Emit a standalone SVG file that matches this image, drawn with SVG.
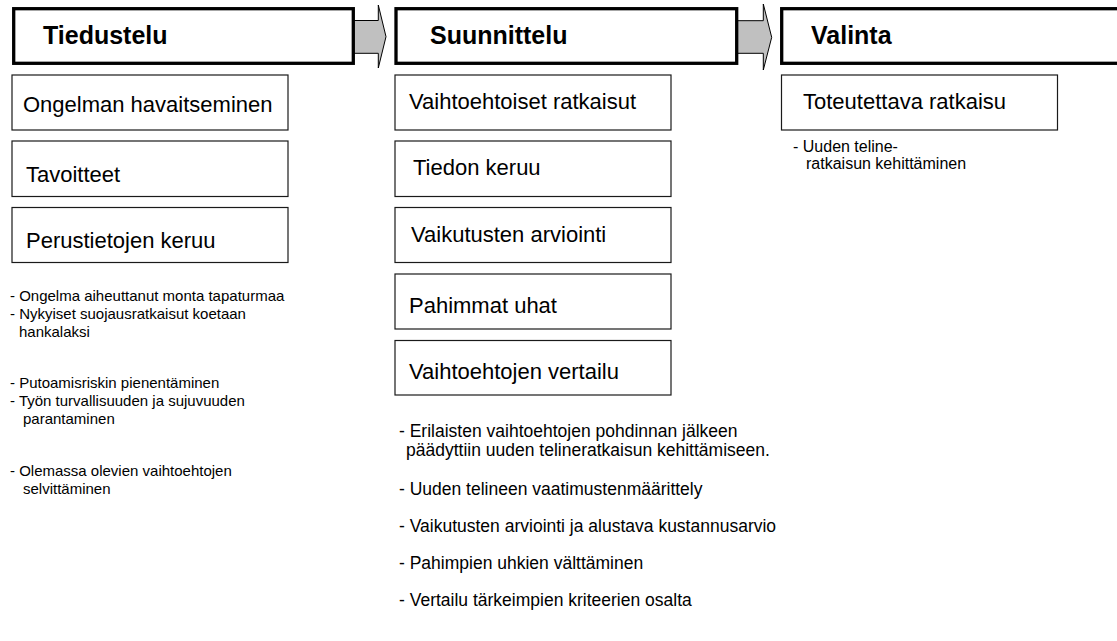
<svg xmlns="http://www.w3.org/2000/svg" width="1117" height="641" viewBox="0 0 1117 641">
  <style>
    .phase { fill: #ffffff; stroke: #000000; stroke-width: 3.3; }
    .step { fill: #ffffff; stroke: #1a1a1a; stroke-width: 1.2; }
    .flow { fill: #c0c0c0; stroke: #000000; stroke-width: 1; stroke-linejoin: miter; }
    .head { font-family: "Liberation Sans", Arial, sans-serif; font-weight: bold; font-size: 25px; fill: #000; }
    .label { font-family: "Liberation Sans", Arial, sans-serif; font-size: 22px; fill: #000; }
    .note-l { font-family: "Liberation Sans", Arial, sans-serif; font-size: 15px; fill: #000; }
    .note-m { font-family: "Liberation Sans", Arial, sans-serif; font-size: 17.5px; fill: #000; }
    .note-r { font-family: "Liberation Sans", Arial, sans-serif; font-size: 16px; fill: #000; }
  </style>
  <rect width="1117" height="641" fill="#ffffff"/>

  <!-- Arrows between phases -->
  <g id="connectors">
    <polygon class="flow" points="352,20.5 378.3,20.5 378.3,5 386,36.7 378.3,68 378.3,53.3 352,53.3"/>
    <polygon class="flow" points="736,20.7 763.3,20.7 763.3,4 771.7,37.3 763.3,70 763.3,53.3 736,53.3"/>
  </g>

  <!-- Phase headers -->
  <g id="phase-tiedustelu">
    <rect class="phase" x="13.7" y="8.7" width="339.6" height="54.6"/>
    <text class="head" x="43" y="43.5">Tiedustelu</text>
  </g>
  <g id="phase-suunnittelu">
    <rect class="phase" x="396" y="8.7" width="340.7" height="54.6"/>
    <text class="head" x="430" y="43.5">Suunnittelu</text>
  </g>
  <g id="phase-valinta">
    <rect class="phase" x="781.7" y="8.7" width="345" height="54.6"/>
    <text class="head" x="811" y="43.5">Valinta</text>
  </g>

  <!-- Tiedustelu steps -->
  <g id="step-ongelman-havaitseminen">
    <rect class="step" x="12" y="75" width="276" height="55"/>
    <text class="label" x="23" y="112">Ongelman havaitseminen</text>
  </g>
  <g id="step-tavoitteet">
    <rect class="step" x="12" y="141" width="276" height="55.5"/>
    <text class="label" x="26" y="182">Tavoitteet</text>
  </g>
  <g id="step-perustietojen-keruu">
    <rect class="step" x="12" y="207.5" width="276" height="55"/>
    <text class="label" x="26" y="248">Perustietojen keruu</text>
  </g>

  <!-- Suunnittelu steps -->
  <g id="step-vaihtoehtoiset-ratkaisut">
    <rect class="step" x="395" y="75" width="276" height="55"/>
    <text class="label" x="409" y="108.5">Vaihtoehtoiset ratkaisut</text>
  </g>
  <g id="step-tiedon-keruu">
    <rect class="step" x="395" y="141" width="276" height="55.5"/>
    <text class="label" x="413" y="175">Tiedon keruu</text>
  </g>
  <g id="step-vaikutusten-arviointi">
    <rect class="step" x="395" y="207.5" width="276" height="55"/>
    <text class="label" x="411" y="242">Vaikutusten arviointi</text>
  </g>
  <g id="step-pahimmat-uhat">
    <rect class="step" x="395" y="274" width="276" height="55"/>
    <text class="label" x="409" y="312.5">Pahimmat uhat</text>
  </g>
  <g id="step-vaihtoehtojen-vertailu">
    <rect class="step" x="395" y="340.5" width="276" height="54.5"/>
    <text class="label" x="409" y="379">Vaihtoehtojen vertailu</text>
  </g>

  <!-- Valinta step -->
  <g id="step-toteutettava-ratkaisu">
    <rect class="step" x="781.5" y="75" width="276" height="55"/>
    <text class="label" x="803" y="108.5">Toteutettava ratkaisu</text>
  </g>

  <!-- Notes under each column -->
  <g id="notes-tiedustelu">
    <text class="note-l" x="10" y="301">- Ongelma aiheuttanut monta tapaturmaa</text>
    <text class="note-l" x="10" y="319">- Nykyiset suojausratkaisut koetaan</text>
    <text class="note-l" x="19" y="337">hankalaksi</text>
    <text class="note-l" x="10" y="388">- Putoamisriskin pienentäminen</text>
    <text class="note-l" x="10" y="406">- Työn turvallisuuden ja sujuvuuden</text>
    <text class="note-l" x="23" y="424">parantaminen</text>
    <text class="note-l" x="10" y="476">- Olemassa olevien vaihtoehtojen</text>
    <text class="note-l" x="23" y="494">selvittäminen</text>
  </g>
  <g id="notes-suunnittelu">
    <text class="note-m" x="399" y="437">- Erilaisten vaihtoehtojen pohdinnan jälkeen</text>
    <text class="note-m" x="406" y="456">päädyttiin uuden telineratkaisun kehittämiseen.</text>
    <text class="note-m" x="399" y="495">- Uuden telineen vaatimustenmäärittely</text>
    <text class="note-m" x="399" y="532">- Vaikutusten arviointi ja alustava kustannusarvio</text>
    <text class="note-m" x="399" y="569">- Pahimpien uhkien välttäminen</text>
    <text class="note-m" x="399" y="606">- Vertailu tärkeimpien kriteerien osalta</text>
  </g>
  <g id="notes-valinta">
    <text class="note-r" x="793" y="152">- Uuden teline-</text>
    <text class="note-r" x="806" y="169">ratkaisun kehittäminen</text>
  </g>
</svg>
